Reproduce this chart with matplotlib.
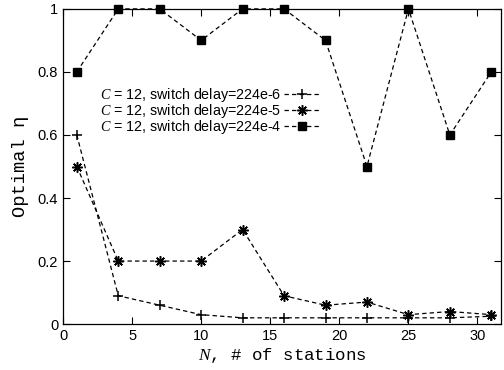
import matplotlib
matplotlib.use("Agg")
from matplotlib import pyplot as plt

# N, number of stations
stations = [1, 4, 7, 10, 13, 16, 19, 22, 25, 28, 31]

eta_224e6 = [0.6, 0.09, 0.06, 0.03, 0.02, 0.02, 0.02, 0.02, 0.02, 0.02, 0.025]
eta_224e5 = [0.5, 0.2, 0.2, 0.2, 0.3, 0.09, 0.06, 0.07, 0.03, 0.04, 0.03]
eta_224e4 = [0.8, 1.0, 1.0, 0.9, 1.0, 1.0, 0.9, 0.5, 1.0, 0.6, 0.8]

labels = [r"$C$ = 12, switch delay=224e-6",
          r"$C$ = 12, switch delay=224e-5",
          r"$C$ = 12, switch delay=224e-4"]

xticks = [0, 5, 10, 15, 20, 25, 30]
yticks = [0, 0.2, 0.4, 0.6, 0.8, 1]
ytick_labels = ["0", "0.2", "0.4", "0.6", "0.8", "1"]

plt.rcParams['font.family'] = ['Liberation Sans', 'DejaVu Sans']
plt.rcParams['mathtext.fontset'] = 'custom'
plt.rcParams['mathtext.it'] = 'Liberation Serif:italic'

fig = plt.figure(figsize=(5.04, 3.70), dpi=100)
ax = fig.add_axes([0.125, 0.124, 0.869, 0.852])

asterisk = (8, 2, 0)
style = dict(color='black', linestyle='--', linewidth=0.9, dashes=(3.5, 2.5))
ax.plot(stations, eta_224e6, marker='+', markersize=7, markeredgewidth=1.1,
        label=labels[0], **style)
ax.plot(stations, eta_224e5, marker=asterisk, markersize=7.5, markeredgewidth=1.1,
        label=labels[1], **style)
ax.plot(stations, eta_224e4, marker='s', markersize=6, label=labels[2],
        clip_on=False, **style)

ax.set_xlim(0, 31.7)
ax.set_ylim(0, 1)
ax.set_xticks(xticks)
ax.set_yticks(yticks)
ax.set_yticklabels(ytick_labels)
ax.tick_params(direction='in', top=True, right=True, length=5, labelsize=10.5, width=0.8)
for s in ax.spines.values():
    s.set_linewidth(0.9)

ax.set_xlabel(r"$N$, # of stations", family='Liberation Mono', fontsize=12.5, labelpad=2)
ax.set_ylabel("Optimal η", family='Liberation Mono', fontsize=13.5, labelpad=6)

leg = ax.legend(loc='upper right', bbox_to_anchor=(0.6, 0.775), frameon=False,
                markerfirst=False, handlelength=2.5, fontsize=10.3,
                labelspacing=-0.12, borderaxespad=0, handletextpad=0.2)

fig.savefig("out.png", dpi=100)
